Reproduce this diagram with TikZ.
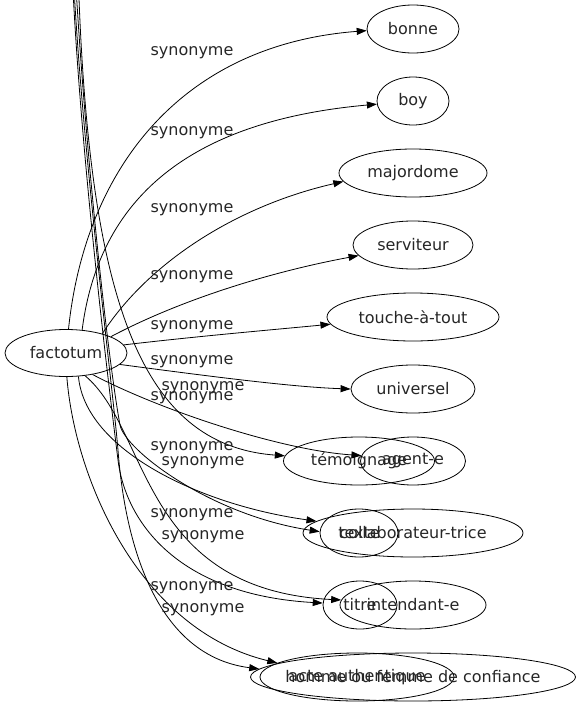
\documentclass[tikz,border=0pt]{standalone}
\usepackage{fontspec}
\setmainfont{DejaVu Sans}
\usetikzlibrary{shapes.geometric,arrows.meta}
\begin{document}
\begin{tikzpicture}[x=1pt,y=-1pt,
  every node/.style={font=\fontsize{16}{19}\selectfont,text=black!85},
  syn/.style={ellipse,draw,line width=0.8pt,inner sep=0pt,minimum height=48pt},
  arr/.style={draw,line width=0.8pt,-{Triangle[length=10pt,width=7pt]}},
  lab/.style={inner sep=0pt}]
\useasboundingbox (0,0) rectangle (580,707);
\clip (0,0) rectangle (580,707);
% nodes
\node[syn,minimum width=122pt,minimum height=47pt] (factotum) at (66,353) {factotum};
\node[syn,minimum width=92pt] (bonne) at (413,29) {bonne};
\node[syn,minimum width=72pt] (boy) at (413,101) {boy};
\node[syn,minimum width=148pt] (majordome) at (413,173) {majordome};
\node[syn,minimum width=120pt] (serviteur) at (413,245) {serviteur};
\node[syn,minimum width=172pt] (touche) at (413,317) {touche-à-tout};
\node[syn,minimum width=124pt] (universel) at (413,389) {universel};
\node[syn,minimum width=151pt] (temoignage) at (359,461) {témoignage};
\node[syn,minimum width=105pt] (agent) at (413,461) {agent-e};
\node[syn,minimum width=78pt] (texte) at (359,533) {texte};
\node[syn,minimum width=220pt] (collab) at (413,533) {collaborateur-trice};
\node[syn,minimum width=74pt] (titre) at (360,605) {titre};
\node[syn,minimum width=146pt] (intendant) at (413,605) {intendant-e};
\node[syn,minimum width=194pt,inner xsep=-4pt] (acte) at (357,677) {acte authentique};
\node[syn,minimum width=325pt,inner xsep=-14pt] (homme) at (413,677) {homme ou femme de confiance};
% off-canvas start points and bends of the stray edges
\coordinate (o1) at (78,-30);
\coordinate (o2) at (75,-30);
\coordinate (o3) at (72,-30);
\coordinate (o4) at (73,-30);
\coordinate (s2) at (120,425);
\coordinate (s3) at (118,460);
\coordinate (s4) at (118,450);
% main edges
\draw[arr] (factotum.84) .. controls (85,170) and (180,45) .. (bonne.182);
\draw[arr] (factotum.55) .. controls (100,190) and (200,120) .. (boy.185);
\draw[arr] (factotum.28) .. controls (150,260) and (240,205) .. (majordome.187);
\draw[arr] (factotum.20) .. controls (180,300) and (270,272) .. (serviteur.191);
\draw[arr] (factotum.8) .. controls (200,336) and (270,330) .. (touche.185);
\draw[arr] (factotum.-12) .. controls (200,375) and (290,387) .. (universel.180);
\draw[arr] (factotum.-39) .. controls (160,410) and (280,450) .. (agent.174);
\draw[arr] (factotum.-62) .. controls (85,450) and (200,505) .. (collab.173);
\draw[arr] (factotum.-50) .. controls (150,430) and (140,590) .. (intendant.176);
\draw[arr] (factotum.-88) .. controls (75,480) and (140,630) .. (acte.170);
% stray edges from above
\draw[arr] (o1) .. controls (88,300) and (140,445) .. (temoignage.176);
\draw[arr] (o2) .. controls (85,150) and (108,360) .. (s2) .. controls (125,450) and (210,515) .. (texte.178);
\draw[arr] (o3) .. controls (80,150) and (108,380) .. (s3) .. controls (126,524) and (180,595) .. (titre.177);
\draw[arr] (o4) .. controls (82,150) and (112,380) .. (s4) .. controls (124,530) and (150,655) .. (homme.177);
% labels
\node[lab] (l1) at (192,53) {synonyme};
\node[lab] (l2) at (192,133) {synonyme};
\node[lab] (l3) at (192,210) {synonyme};
\node[lab] (l4) at (192,277) {synonyme};
\node[lab] (l5) at (192,327) {synonyme};
\node[lab] (l6) at (192,362) {synonyme};
\node[lab] (l7) at (192,398) {synonyme};
\node[lab] (l8) at (192,448) {synonyme};
\node[lab] (l9) at (192,515) {synonyme};
\node[lab] (l10) at (192,588) {synonyme};
\node[lab] (m1) at (203,388) {synonyme};
\node[lab] (m2) at (203,463) {synonyme};
\node[lab] (m3) at (203,537) {synonyme};
\node[lab] (m4) at (203,610) {synonyme};
\end{tikzpicture}
\end{document}
